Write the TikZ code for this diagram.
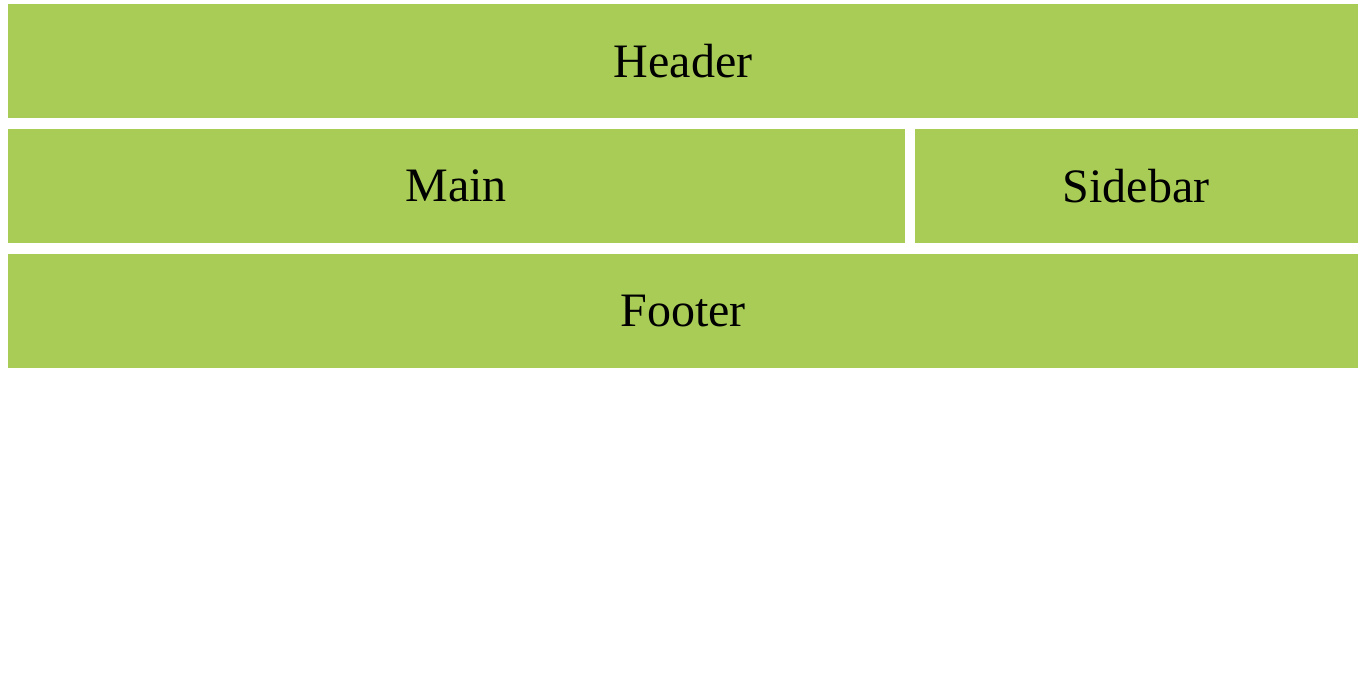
\documentclass[tikz,border=0pt]{standalone}
\usepackage{fontspec}
\setmainfont{Liberation Serif}
\definecolor{boxgreen}{HTML}{A8CC55}
\begin{document}
\begin{tikzpicture}[x=0.75pt,y=-0.75pt,
  area/.style={fill=boxgreen,draw=none,inner sep=0pt},
  lbl/.style={font=\fontsize{36}{40}\selectfont,text=black}]
\useasboundingbox (0,0) rectangle (1366,677);
\fill[white] (0,0) rectangle (1366,677);
\fill[boxgreen] (8,4) rectangle (1358,118);
\fill[boxgreen] (8,129) rectangle (905,243);
\fill[boxgreen] (915,129) rectangle (1358,243);
\fill[boxgreen] (8,254) rectangle (1358,368);
\node[lbl] (header) at (683,61) {Header};
\node[lbl] (main) at (456,186) {Main};
\node[lbl] (sidebar) at (1136,186) {Sidebar};
\node[lbl] (footer) at (683,311) {Footer};
\end{tikzpicture}
\end{document}
